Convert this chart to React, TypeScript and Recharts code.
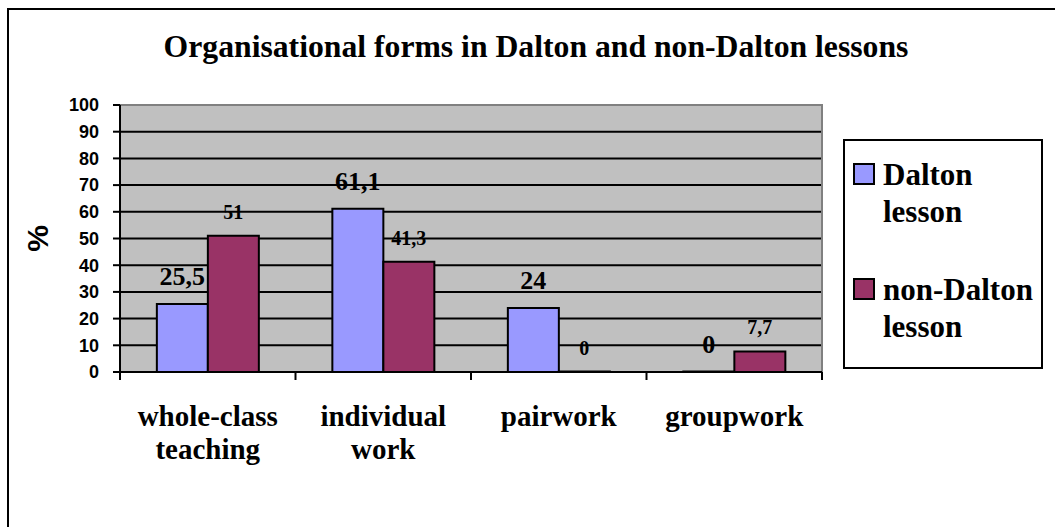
import {
  BarChart,
  Bar,
  XAxis,
  YAxis,
  CartesianGrid,
  ReferenceArea,
  LabelList,
  Legend,
} from "recharts";

const categories = ["whole-class teaching", "individual work", "pairwork", "groupwork"];
const daltonValues = [25.5, 61.1, 24, 0];
const nonDaltonValues = [51, 41.3, 0, 7.7];
const yTicks = [0, 10, 20, 30, 40, 50, 60, 70, 80, 90, 100];
const gridValues = [0, 10, 20, 30, 40, 50, 60, 70, 80, 90];

const data = categories.map((category, i) => ({
  category,
  dalton: daltonValues[i],
  nonDalton: nonDaltonValues[i],
}));

const SERIF = "Liberation Serif, Times New Roman, serif";
const SANS = "Liberation Sans, Arial, sans-serif";

const fmt = (v: any) => String(v).replace(".", ",");
// zero bars get a sliver of height so their "0" label is still drawn (hidden under the axis line)
const zeroSliver = (v: any) => (Number(v) === 0 ? 0.5 : 0);

function CategoryTick(props: any) {
  const { x, y, payload, index } = props;
  const half = payload?.offset ?? 0;
  const lines = String(payload?.value ?? "").split(" ");
  return (
    <g>
      <line x1={x - half} x2={x - half} y1={y} y2={y + 8} stroke="#000" strokeWidth={2} />
      {index === categories.length - 1 && (
        <line x1={x + half} x2={x + half} y1={y} y2={y + 8} stroke="#000" strokeWidth={2} />
      )}
      <text
        x={x}
        y={y + 54}
        textAnchor="middle"
        style={{ fontFamily: SERIF, fontWeight: "bold", fontSize: 29 }}
        fill="#000"
      >
        {lines.map((line, i) => (
          <tspan key={line} x={x} dy={i === 0 ? 0 : 33}>
            {line}
          </tspan>
        ))}
      </text>
    </g>
  );
}

function PercentLabel(props: any) {
  const vb = props.viewBox ?? { x: 0, y: 0, width: 0, height: 0 };
  const cx = vb.x + 37;
  const cy = vb.y + vb.height / 2;
  return (
    <text
      x={cx}
      y={cy}
      transform={`rotate(-90, ${cx}, ${cy})`}
      textAnchor="middle"
      dominantBaseline="central"
      style={{ fontFamily: SANS, fontWeight: "bold", fontSize: 30 }}
      fill="#000"
    >
      %
    </text>
  );
}

function LegendBox({ payload }: any) {
  return (
    <svg width={200} height={230} style={{ display: "block" }}>
      <rect x={1} y={1} width={198} height={228} fill="#fff" stroke="#000" strokeWidth={2} />
      {(payload ?? []).map((entry: any, i: number) => {
        const top = 25 + i * 115;
        const words = String(entry.value).split(" ");
        return (
          <g key={entry.value}>
            <rect
              x={11}
              y={top}
              width={20}
              height={20}
              fill={entry.color}
              stroke="#000"
              strokeWidth={2}
            />
            <text
              x={40}
              y={top + 21}
              style={{ fontFamily: SERIF, fontWeight: "bold", fontSize: 31 }}
              fill="#000"
            >
              {words.map((w, j) => (
                <tspan key={w} x={40} dy={j === 0 ? 0 : 37}>
                  {w}
                </tspan>
              ))}
            </text>
          </g>
        );
      })}
    </svg>
  );
}

const labelStyle = (size: number) => ({ fontFamily: SERIF, fontWeight: "bold", fontSize: size });

export default function App() {
  return (
    <div
      style={{
        position: "absolute",
        left: 0,
        top: 0,
        width: 1055,
        height: 527,
        background: "#fff",
        overflow: "hidden",
      }}
    >
      <div
        style={{
          position: "absolute",
          left: 7,
          top: 8,
          right: 0,
          bottom: 0,
          borderTop: "2px solid #000",
          borderLeft: "2px solid #000",
        }}
      />
      <div
        style={{
          position: "absolute",
          left: 0,
          top: 30,
          width: 1072,
          textAlign: "center",
          fontFamily: SERIF,
          fontWeight: "bold",
          fontSize: 31.7,
          lineHeight: "34px",
          whiteSpace: "nowrap",
          color: "#000",
        }}
      >
        Organisational forms in Dalton and non-Dalton lessons
      </div>
      <div style={{ position: "absolute", left: 0, top: 0 }}>
        <BarChart
          width={1055}
          height={527}
          data={data}
          margin={{ top: 105, right: 233, bottom: 55, left: 0 }}
          barCategoryGap="21%"
          barGap={0}
        >
          <CartesianGrid
            vertical={false}
            horizontalValues={gridValues}
            stroke="#000"
            strokeWidth={2}
            fill="#C0C0C0"
            fillOpacity={1}
          />
          <ReferenceArea
            y1={0}
            y2={100}
            fill="none"
            stroke="#808080"
            strokeWidth={2}
            ifOverflow="visible"
          />
          <XAxis
            dataKey="category"
            height={100}
            interval={0}
            axisLine={{ stroke: "#000", strokeWidth: 2 }}
            tickLine={false}
            tickSize={0}
            tickMargin={0}
            tick={<CategoryTick />}
          />
          <YAxis
            domain={[0, 100]}
            ticks={yTicks}
            interval={0}
            width={120}
            axisLine={{ stroke: "#000", strokeWidth: 2 }}
            tickLine={{ stroke: "#000", strokeWidth: 2 }}
            tickSize={7}
            tickMargin={14}
            tick={{ fontSize: 18, fontWeight: "bold", fontFamily: SANS, fill: "#000" }}
            label={PercentLabel}
          />
          <Legend
            layout="horizontal"
            align="center"
            verticalAlign="middle"
            width={200}
            height={230}
            wrapperStyle={{ left: 843, top: 139, width: 200, height: 230 }}
            content={<LegendBox />}
          />
          <Bar
            dataKey="dalton"
            name="Dalton lesson"
            fill="#9999FF"
            stroke="#000"
            strokeWidth={2}
            minPointSize={zeroSliver}
            isAnimationActive={false}
          >
            <LabelList
              dataKey="dalton"
              position="top"
              offset={19}
              formatter={fmt}
              fill="#000"
              stroke="none"
              style={labelStyle(26)}
            />
          </Bar>
          <Bar
            dataKey="nonDalton"
            name="non-Dalton lesson"
            fill="#993366"
            stroke="#000"
            strokeWidth={2}
            minPointSize={zeroSliver}
            isAnimationActive={false}
          >
            <LabelList
              dataKey="nonDalton"
              position="top"
              offset={17}
              formatter={fmt}
              fill="#000"
              stroke="none"
              style={labelStyle(20)}
            />
          </Bar>
        </BarChart>
      </div>
    </div>
  );
}
